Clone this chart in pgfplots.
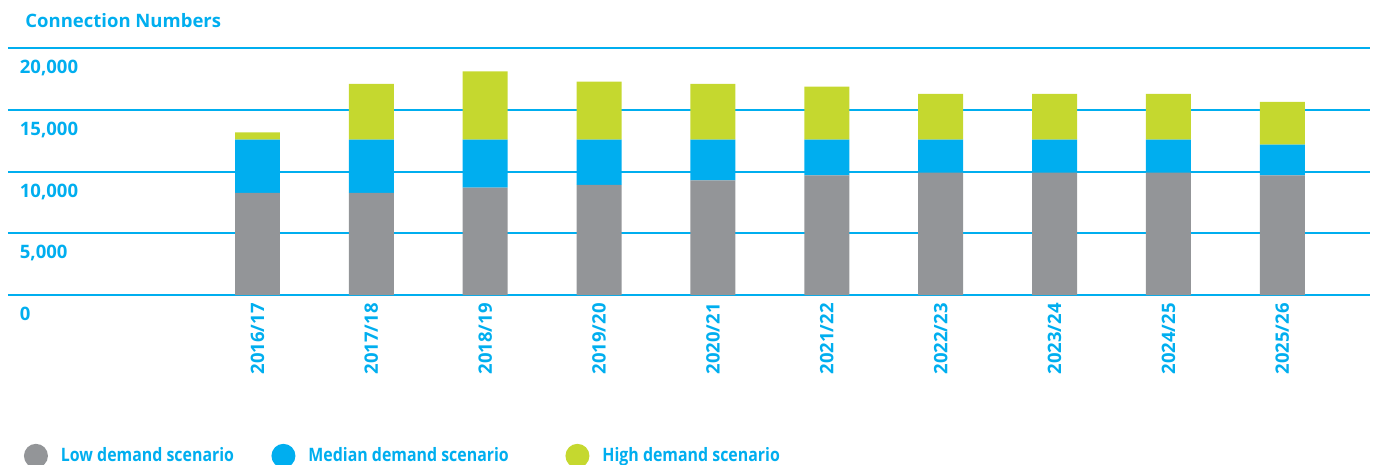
\documentclass[border=0pt]{standalone}
\usepackage{pgfplots}
\pgfplotsset{compat=1.18}
\usepackage{pgfplotstable}
\usepackage{fontspec}
\setmainfont{Open Sans}
\newfontfamily\condfont{Open Sans}[FakeStretch=0.86]
\definecolor{cblue}{HTML}{00AEEF}
\definecolor{cgray}{HTML}{939598}
\definecolor{cgreen}{HTML}{C5D82F}
\pgfplotstableread{
x low med high
0 8270 4320 600
1 8270 4320 4520
2 8700 3890 5545
3 8920 3670 4700
4 9300 3290 4520
5 9700 2890 4300
6 9915 2675 3710
7 9915 2675 3710
8 9915 2675 3710
9 9700 2485 3465
}\datatable
\begin{document}
\begin{tikzpicture}
\node[anchor=base west, inner sep=0pt, text=cblue, font=\fontsize{9.25}{11}\selectfont\bfseries] at (12.5pt,-14pt) {Connection Numbers};
\begin{axis}[
  at={(4pt,-147.5pt)}, anchor=south west,
  scale only axis, width=681pt, height=123.35pt,
  xmin=-2.191, xmax=9.77, ymin=0, ymax=20000,
  ybar stacked, bar width=0.395,
  axis line style={draw=none},
  ymajorgrids, grid style={cblue, line width=1pt},
  ytick={0,5000,10000,15000,20000},
  major tick length=0pt,
  scaled y ticks=false,
  /pgf/number format/assume math mode=true,
  /pgf/number format/1000 sep={,},
  xtick=data,
  xticklabels={2016/17,2017/18,2018/19,2019/20,2020/21,2021/22,2022/23,2023/24,2024/25,2025/26},
  ticklabel style={font=\fontsize{9.25}{11}\selectfont\bfseries, text=cblue},
  yticklabel style={anchor=north west, inner sep=0pt, xshift=5.75pt, yshift=-5.85pt},
  xticklabel style={rotate=90, anchor=east, inner sep=0pt},
  xticklabel shift=4pt,
  legend columns=3,
  legend style={draw=none, fill=none, at={(0.0117,-0.652)}, anchor=west,
    inner sep=0pt, outer sep=0pt, column sep=0pt,
    font=\condfont\fontsize{9.25}{11}\selectfont\bfseries, text=cblue,
    nodes={inner sep=0pt}},
  legend image code/.code={\fill (6pt,0pt) circle (6pt);},
]
\addplot[fill=cgray, draw=none] table[x=x, y=low] {\datatable};
\addlegendentry{\makebox[111.75pt][l]{\hspace{6.5pt}Low demand scenario}}
\addplot[fill=cblue, draw=none] table[x=x, y=med] {\datatable};
\addlegendentry{\makebox[135pt][l]{\hspace{6.5pt}Median demand scenario}}
\addplot[fill=cgreen, draw=none] table[x=x, y=high] {\datatable};
\addlegendentry{\makebox[110pt][l]{\hspace{6.5pt}High demand scenario}}
\end{axis}
\pgfresetboundingbox
\path[use as bounding box] (0,0) rectangle (689pt,-232.5pt);
\end{tikzpicture}
\end{document}
